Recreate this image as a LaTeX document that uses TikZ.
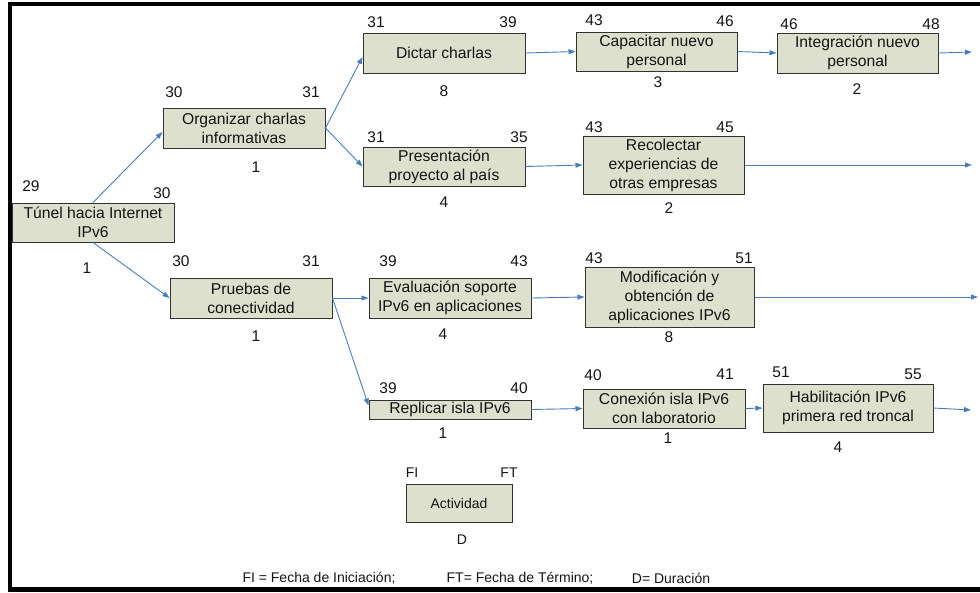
\documentclass[tikz,border=0pt]{standalone}
\usepackage{fontspec}
\setmainfont{Liberation Sans}
\usetikzlibrary{arrows.meta}
\definecolor{boxfill}{RGB}{221,224,204}
\definecolor{boxline}{RGB}{50,50,50}
\definecolor{linkblue}{RGB}{74,126,187}
\definecolor{inkgray}{RGB}{20,20,20}
\begin{document}
\begin{tikzpicture}[x=1pt,y=-1pt,
  task/.style={draw=boxline, line width=1pt, fill=boxfill, inner sep=0pt,
    align=center, font=\fontsize{15.7}{19}\selectfont, text=inkgray},
  num/.style={inner sep=0pt, font=\fontsize{15.5}{18}\selectfont, text=inkgray},
  small/.style={inner sep=0pt, font=\fontsize{14}{17}\selectfont, text=inkgray},
  link/.style={draw=linkblue, line width=0.9pt, -{Triangle[length=7pt,width=5pt]}},
]
\useasboundingbox (0,0) rectangle (980,592);
\fill[white] (0,0) rectangle (980,592);
% outer frame (open on the right)
\draw[line width=4.5pt, line join=miter] (980,4) -- (10,4) -- (10,589.5) -- (980,589.5);

% activities
\node[task, minimum width=162pt, minimum height=39pt] (tunel) at (93,222.5) {Túnel hacia Internet\\IPv6};
\node[task, minimum width=162pt, minimum height=40pt] (organizar) at (244,128) {Organizar charlas\\informativas};
\node[task, minimum width=162pt, minimum height=40pt] (pruebas) at (251,298) {Pruebas de\\conectividad};
\node[task, minimum width=162pt, minimum height=40pt] (dictar) at (444,53) {Dictar charlas};
\node[task, minimum width=162pt, minimum height=39pt] (present) at (444,166.5) {Presentación\\proyecto al país};
\node[task, minimum width=161pt, minimum height=39pt] (capacitar) at (656.5,51.5) {Capacitar nuevo\\personal};
\node[task, minimum width=161pt, minimum height=58pt] (recolectar) at (663.5,165) {Recolectar\\experiencias de\\otras empresas};
\node[task, minimum width=161pt, minimum height=40pt] (integracion) at (857.5,53) {Integración nuevo\\personal};
\node[task, minimum width=162pt, minimum height=40pt] (evaluacion) at (450,298) {Evaluación soporte\\IPv6 en aplicaciones};
\node[task, minimum width=169pt, minimum height=60pt] (modif) at (669.5,297) {Modificación y\\obtención de\\aplicaciones IPv6};
\node[task, minimum width=162pt, minimum height=19pt] (replicar) at (450,409.5) {Replicar isla IPv6};
\node[task, minimum width=162pt, minimum height=39pt] (conexion) at (664,408.5) {Conexión isla IPv6\\con laboratorio};
\node[task, minimum width=170pt, minimum height=48pt] (habil) at (848,408) {Habilitación IPv6\\primera red troncal};
\node[task, minimum width=106pt, minimum height=38pt, font=\fontsize{14}{17}\selectfont] (actividad) at (459,503) {Actividad};

% start / finish dates and durations
\node[num] (tunelFI) at (31,186) {29};
\node[num] (tunelFT) at (162,193) {30};
\node[num] (tunelD) at (87,268) {1};
\node[num] (organizarFI) at (174,92) {30};
\node[num] (organizarFT) at (311,92) {31};
\node[num] (organizarD) at (256,167) {1};
\node[num] (pruebasFI) at (181,261) {30};
\node[num] (pruebasFT) at (311,261) {31};
\node[num] (pruebasD) at (256,336) {1};
\node[num] (dictarFI) at (376,22) {31};
\node[num] (dictarFT) at (508,22) {39};
\node[num] (dictarD) at (444,91) {8};
\node[num] (presentFI) at (376,137) {31};
\node[num] (presentFT) at (519,137) {35};
\node[num] (presentD) at (444,202) {4};
\node[num] (capacitarFI) at (594,20) {43};
\node[num] (capacitarFT) at (725,21) {46};
\node[num] (capacitarD) at (658,82) {3};
\node[num] (integracionFI) at (789,24) {46};
\node[num] (integracionFT) at (931,24) {48};
\node[num] (integracionD) at (857,89) {2};
\node[num] (recolectarFI) at (594,127) {43};
\node[num] (recolectarFT) at (725,127) {45};
\node[num] (recolectarD) at (669,208) {2};
\node[num] (evaluacionFI) at (388,261) {39};
\node[num] (evaluacionFT) at (519,261) {43};
\node[num] (evaluacionD) at (443,334) {4};
\node[num] (modifFI) at (594,258) {43};
\node[num] (modifFT) at (744,258) {51};
\node[num] (modifD) at (669,337) {8};
\node[num] (replicarFI) at (388,388) {39};
\node[num] (replicarFT) at (519,388) {40};
\node[num] (replicarD) at (443,433) {1};
\node[num] (conexionFI) at (593,375) {40};
\node[num] (conexionFT) at (725,374) {41};
\node[num] (conexionD) at (668,438) {1};
\node[num] (habilFI) at (781,372) {51};
\node[num] (habilFT) at (913,374) {55};
\node[num] (habilD) at (838,447) {4};
\node[small] (actividadFI) at (412,473) {FI};
\node[small] (actividadFT) at (509,473) {FT};
\node[small] (actividadD) at (462,540) {D};

% legend
\node[small] (leyFI) at (319,578) {FI = Fecha de Iniciación;};
\node[small] (leyFT) at (520,578) {FT= Fecha de Término;};
\node[small] (leyD) at (671,578) {D= Duración};

% open ends of the network
\coordinate (endA) at (972,52);
\coordinate (endB) at (972,165);
\coordinate (endC) at (978,297);
\coordinate (endD) at (971,410);

% precedence links
\draw[link] (tunel.north) -- ([yshift=-4pt]organizar.west);
\draw[link] (tunel.south) -- (pruebas.west);
\draw[link] (organizar.east) -- ([yshift=-4pt]dictar.west);
\draw[link] (organizar.east) -- (present.west);
\draw[link] (dictar.east) -- (capacitar.west);
\draw[link] (present.east) -- (recolectar.west);
\draw[link] (capacitar.east) -- (integracion.west);
\draw[link] (integracion.east) -- (endA);
\draw[link] (recolectar.east) -- (endB);
\draw[link] (pruebas.east) -- (evaluacion.west);
\draw[link] (pruebas.east) -- ([yshift=4pt]replicar.west);
\draw[link] (evaluacion.east) -- (modif.west);
\draw[link] (modif.east) -- (endC);
\draw[link] (replicar.east) -- (conexion.west);
\draw[link] (conexion.east) -- (habil.west);
\draw[link] (habil.east) -- (endD);
\end{tikzpicture}
\end{document}
